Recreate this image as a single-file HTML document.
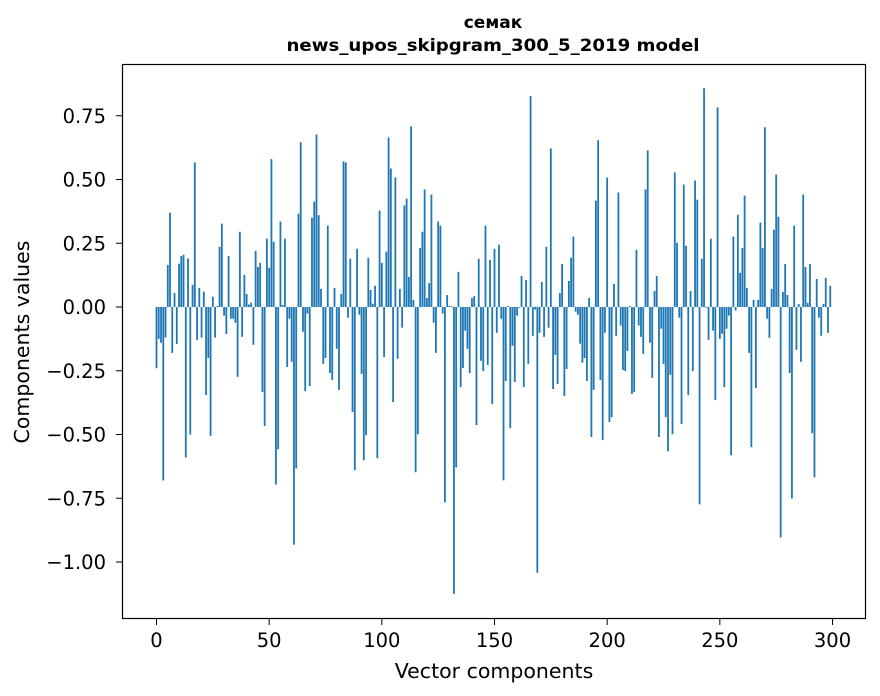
<!DOCTYPE html>
<html><head><meta charset="utf-8"><style>
html,body{margin:0;padding:0;background:#fff;}
svg{display:block;font-family:"DejaVu Sans","Liberation Sans",sans-serif;}
</style></head><body>
<svg id="chart" width="880" height="696" viewBox="0 0 880 696" xmlns="http://www.w3.org/2000/svg">
<rect width="880" height="696" fill="#fff"/>
<text x="493" y="28" text-anchor="middle" font-size="17" font-weight="bold">семак</text>
<text x="493" y="51" text-anchor="middle" font-size="17" font-weight="bold" textLength="413" lengthAdjust="spacingAndGlyphs">news_upos_skipgram_300_5_2019 model</text>
<g id="bars"></g>
<g id="xticks"></g>
<g id="yticks"></g>
<rect x="122.5" y="64.5" width="743" height="554" fill="none" stroke="#000" stroke-width="1.2"/>
<text x="494" y="678" text-anchor="middle" font-size="20.5">Vector components</text>
<text transform="translate(29,342) rotate(-90)" text-anchor="middle" font-size="20.5">Components values</text>
</svg>
<script>
const values = [-0.24,-0.125,-0.14,-0.68,-0.12,0.165,0.37,-0.18,0.055,-0.145,
0.17,0.2,0.205,-0.59,0.19,-0.5,0.087,0.567,-0.13,0.075,
-0.12,0.06,-0.345,-0.2,-0.505,0.04,-0.12,0.004,0.236,0.327,
-0.034,-0.106,0.2,-0.046,-0.046,-0.062,-0.274,0.295,-0.117,0.126,
0.051,0.01,0.017,-0.148,0.22,0.157,0.173,-0.333,-0.467,0.268,
0.154,0.58,0.256,-0.696,-0.558,0.335,0.008,0.268,-0.235,-0.046,-0.215,
-0.932,-0.633,0.366,0.646,-0.097,-0.33,-0.026,-0.31,0.35,0.413,
0.677,0.36,0.071,-0.223,
-0.2,0.319,-0.259,-0.286,0.075,-0.164,-0.325,0.051,0.571,0.567,
-0.042,0.189,-0.412,-0.64,0.228,-0.03,-0.262,-0.601,-0.503,0.193,
0.067,0.013,0.083,-0.593,0.378,0.173,-0.196,0.217,0.665,0.543,
-0.373,0.508,-0.203,0.071,-0.081,0.398,0.425,0.118,0.709,0.028,
-0.648,-0.499,0.232,0.295,0.461,0.035,0.094,0.441,-0.062,-0.18,
0.335,0.319,-0.026,-0.766,0.047,0.004,0.003,-1.125,-0.629,0.138,
-0.314,-0.239,-0.093,-0.164,-0.259,0.035,0.043,-0.463,0.189,-0.211,
-0.251,0.319,-0.227,0.185,-0.381,0.228,
-0.101,0.244,-0.046,-0.68,-0.29,0.004,-0.475,-0.152,-0.294,-0.034,
-0.003,0.122,-0.314,0.106,-0.223,0.827,-0.113,-0.01,-1.042,-0.101,
0.098,-0.117,0.236,-0.081,0.622,-0.322,-0.188,-0.302,0.055,0.169,
-0.349,-0.243,0.102,0.193,0.276,-0.018,-0.03,-0.144,-0.219,-0.2,
-0.29,0.035,-0.51,-0.325,0.417,0.654,-0.286,-0.522,-0.101,0.508,
-0.451,-0.432,0.091,-0.113,0.449,-0.073,-0.247,-0.251,-0.172,0.004,
-0.341,-0.333,0.224,-0.073,-0.117,-0.184,0.461,0.614,-0.14,-0.278,
0.063,0.122,-0.51,-0.085,
-0.223,-0.432,-0.566,-0.266,-0.499,0.528,0.252,-0.042,-0.459,0.48,
0.24,-0.345,0.063,-0.251,0.496,0.421,-0.774,0.189,0.858,-0.003,
-0.129,0.268,-0.093,-0.365,0.783,-0.125,-0.105,-0.314,-0.085,-0.034,
-0.581,0.276,-0.014,0.362,0.134,0.232,0.437,0.075,-0.18,-0.55,
0.028,-0.318,0.028,0.331,0.232,0.705,-0.046,-0.121,0.071,0.303,
0.52,0.354,-0.904,0.059,0.169,0.047,-0.259,-0.751,0.319,-0.168,
0.012,-0.215,0.441,0.157,0.016,0.169,-0.495,-0.668,0.11,-0.042,
-0.113,0.012,0.114,-0.101,0.083];
const xTicks = [0,50,100,150,200,250,300];
const yTicks = [0.75,0.5,0.25,0,-0.25,-0.5,-0.75,-1.0];
const yTickLabels = ["0.75","0.50","0.25","0.00","\u22120.25","\u22120.50","\u22120.75","\u22121.00"];

const NS = "http://www.w3.org/2000/svg";
function xScale(v){ return 156.5 + v*(676/300); }
function yScale(v){ return 307 - v*255; }
const bars = document.getElementById('bars');
values.forEach((v,i)=>{
  const r = document.createElementNS(NS,'rect');
  const x0 = xScale(i-0.4), x1 = xScale(i+0.4);
  const y0 = Math.min(yScale(v), yScale(0)), h = Math.abs(yScale(v)-yScale(0));
  r.setAttribute('x', x0); r.setAttribute('width', x1-x0);
  r.setAttribute('y', y0); r.setAttribute('height', Math.max(h,0.3));
  r.setAttribute('fill', '#1f77b4');
  
  
  bars.appendChild(r);
});
const xg = document.getElementById('xticks');
xTicks.forEach(t=>{
  const x = xScale(t);
  const l = document.createElementNS(NS,'line');
  l.setAttribute('x1',x); l.setAttribute('x2',x); l.setAttribute('y1',618.5); l.setAttribute('y2',625);
  l.setAttribute('stroke','#000');
  
  
  xg.appendChild(l);
  const tx = document.createElementNS(NS,'text');
  tx.setAttribute('x',x); tx.setAttribute('y',647); tx.setAttribute('text-anchor','middle'); tx.setAttribute('font-size','19.5');
  tx.textContent = String(t);
  
  
  xg.appendChild(tx);
});
const yg = document.getElementById('yticks');
yTicks.forEach((t,i)=>{
  const y = yScale(t);
  const l = document.createElementNS(NS,'line');
  l.setAttribute('x1',116); l.setAttribute('x2',122.5); l.setAttribute('y1',y); l.setAttribute('y2',y);
  l.setAttribute('stroke','#000');
  
  
  yg.appendChild(l);
  const tx = document.createElementNS(NS,'text');
  tx.setAttribute('x',106); tx.setAttribute('y',y+7); tx.setAttribute('text-anchor','end'); tx.setAttribute('font-size','19.5');
  tx.textContent = yTickLabels[i];
  
  
  yg.appendChild(tx);
});
</script>
</body></html>
